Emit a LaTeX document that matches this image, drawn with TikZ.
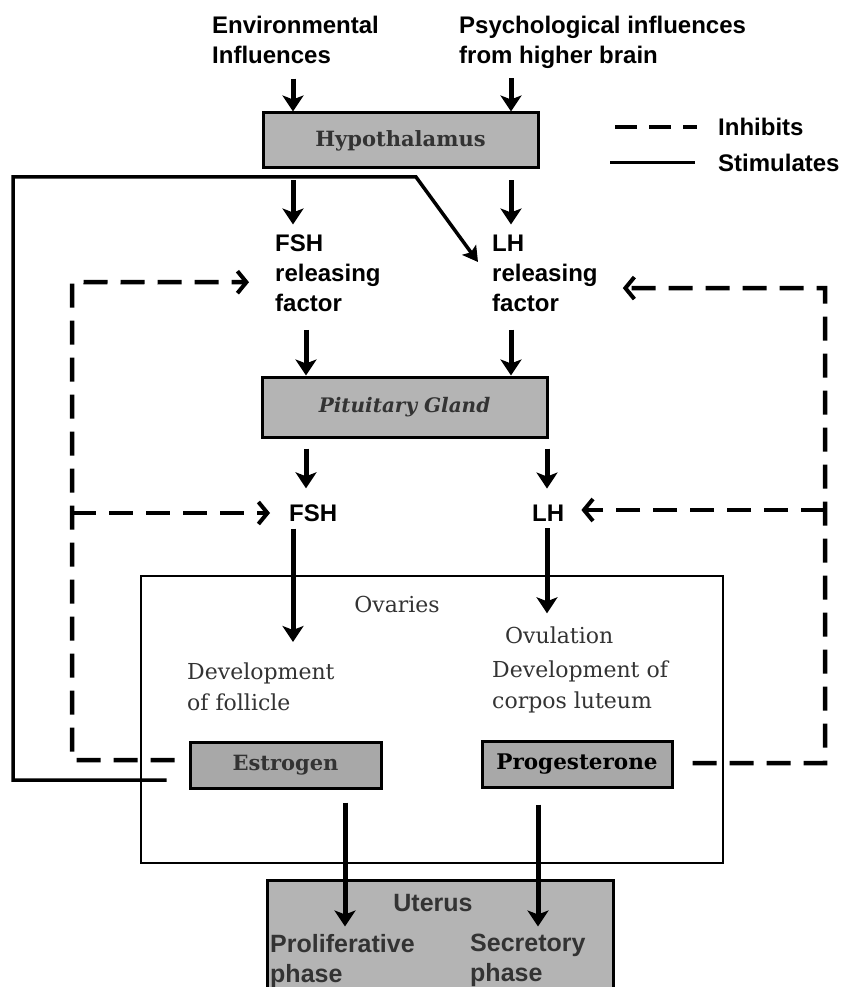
\documentclass[tikz,border=0pt]{standalone}
\usepackage{fontspec}
\setmainfont{Liberation Sans}
\newfontfamily\dvserif{DejaVu Serif}
\usetikzlibrary{arrows.meta,calc}
\definecolor{boxgray}{HTML}{B4B4B4}
\definecolor{boxdark}{HTML}{A8A8A8}
\definecolor{ink}{HTML}{333333}
\begin{document}
\begin{tikzpicture}[x=1pt,y=-1pt,
  lab/.style={font=\bfseries\fontsize{24}{30}\selectfont, align=left, inner sep=0pt},
  ovt/.style={font=\dvserif\fontsize{22}{31}\selectfont, text=ink, align=left, inner sep=0pt},
  shaded/.style={draw=black, line width=3pt, fill=boxgray, inner sep=0pt},
  boxt/.style={font=\dvserif\bfseries\fontsize{21}{24}\selectfont, text=ink},
  ut/.style={font=\bfseries\fontsize{25}{30}\selectfont, text=ink, align=left, inner sep=0pt},
  arr/.style={line width=5pt, -{Stealth[length=16pt,width=21pt,inset=4pt]}},
  stim/.style={line width=3.5pt},
  inh/.style={line width=4.5pt, dash pattern=on 24pt off 13pt},
  inharr/.style={inh, -{Straight Barb[length=9pt,width=22pt,line width=4pt]}},
]
\useasboundingbox (0,0) rectangle (848,987);
\clip (0,0) rectangle (848,987);

% column coordinates
\coordinate (cL) at (293,0);
\coordinate (cR) at (511,0);
\coordinate (cL2) at (306,0);
\coordinate (cR2) at (547,0);
\coordinate (cE) at (345,0);
\coordinate (cP) at (538,0);

% top texts
\node[lab, anchor=north west] (env) at (212,15.5) {Environmental\\Influences};
\node[lab, anchor=north west] (psy) at (459,15.5) {Psychological influences\\from higher brain};

% hypothalamus
\node[shaded, boxt, minimum width=275pt, minimum height=55pt] (hyp) at (400.5,140.5) {Hypothalamus};

% legend
\coordinate (i1) at (615,127);
\coordinate (i2) at (697,127);
\coordinate (s1) at (610,163);
\coordinate (s2) at (695,163);
\node[lab, anchor=west] (inhl) at (718,127) {Inhibits};
\node[lab, anchor=west] (stil) at (718,163) {Stimulates};
\draw[inh, dash pattern=on 22pt off 12pt] (i1) -- (i2);
\draw[line width=3pt] (s1) -- (s2);

% releasing factors
\node[lab, anchor=north west] (fshrf) at (275,234.5) {FSH\\releasing\\factor};
\node[lab, anchor=north west] (lhrf) at (492,234.5) {LH\\releasing\\factor};

% pituitary
\node[shaded, minimum width=285pt, minimum height=60pt, font=\dvserif\bfseries\itshape\fontsize{20}{24}\selectfont, text=ink] (pit) at (404.5,407) {Pituitary Gland};

% FSH / LH
\node[lab, anchor=west] (fsh) at (289,513) {FSH};
\node[lab, anchor=west] (lh) at (532,513) {LH};

% ovaries
\node[draw, line width=2pt, minimum width=582pt, minimum height=287pt, inner sep=0pt] (ovbox) at (432,719.5) {};
\node[ovt] (ovl) at (397,604) {Ovaries};
\node[ovt, anchor=west] (ovu) at (505,635) {Ovulation};
\node[ovt, anchor=north west] (devc) at (492,661) {Development of\\corpos luteum};
\node[ovt, anchor=north west] (devf) at (187,663) {Development\\of follicle};
\node[shaded, fill=boxdark, minimum width=191pt, minimum height=46pt, font=\dvserif\bfseries\fontsize{21}{24}\selectfont, text=ink] (est) at (285.5,765) {Estrogen};
\node[shaded, fill=boxdark, minimum width=190pt, minimum height=46pt, font=\dvserif\bfseries\fontsize{21.5}{24}\selectfont, text=black] (prog) at (577,764) {Progesterone};

% uterus
\node[shaded, minimum width=346pt, minimum height=124pt] (ut) at (440,942) {};
\node[ut] (utl) at (433,903) {Uterus};
\node[ut, anchor=north west] (prol) at (270,934) {Proliferative\\phase};
\node[ut, anchor=north west] (secr) at (470,934) {Secretory\\phase};

% solid arrows
\draw[arr] ($(env.south -| cL)+(0,15)$) -- (hyp.north -| cL);
\draw[arr] ($(psy.south -| cR)+(0,10)$) -- (hyp.north -| cR);
\draw[arr] ($(hyp.south -| cL)+(0,11)$) -- ($(fshrf.north -| cL)+(0,-10)$);
\draw[arr] ($(hyp.south -| cR)+(0,11)$) -- ($(lhrf.north -| cR)+(0,-10)$);
\draw[arr] ($(fshrf.south -| cL2)+(0,18)$) -- (pit.north -| cL2);
\draw[arr] ($(lhrf.south -| cR)+(0,18)$) -- (pit.north -| cR);
\draw[arr] ($(pit.south -| cL2)+(0,10)$) -- ($(fsh.north -| cL2)+(0,-16)$);
\draw[arr] ($(pit.south -| cR2)+(0,10)$) -- ($(lh.north -| cR2)+(0,-16)$);
\draw[arr] ($(fsh.south -| cL)+(0,7)$) -- ($(devf.north -| cL)+(0,-21)$);
\draw[arr] ($(lh.south -| cR2)+(0,7)$) -- ($(ovu.north -| cR2)+(0,-13)$);
\draw[arr] ($(est.south -| cE)+(0,13)$) -- ($(ut.north -| cE)+(0,48)$);
\draw[arr] ($(prog.south -| cP)+(0,16)$) -- ($(ut.north -| cP)+(0,48)$);

% stimulation feedback (estrogen -> LH releasing factor)
\coordinate (sa) at (13,177);
\coordinate (sb) at (416,177);
\coordinate (stip) at (478,262);
\draw[stim, -{Stealth[length=15pt,width=17pt,inset=3pt]}] ($(est.west)+(-22,15)$) -| (sa) -- (sb) -- (stip);

% inhibition feedback
\coordinate (dL) at (72,282);
\coordinate (dLm) at (72,513);
\coordinate (dR) at (825,288);
\coordinate (dRm) at (825,510);
\draw[inharr] ($(est.west)+(-14,-5)$) -| (dL) -- ($(fshrf.west)+(-26,9)$);
\draw[inharr] (dLm) -- ($(fsh.west)+(-19,0)$);
\draw[inharr] ($(prog.east)+(19,-1)$) -| (dR) -- ($(lhrf.east)+(25,15)$);
\draw[inharr] (dRm) -- ($(lh.east)+(17,-3)$);
\end{tikzpicture}
\end{document}
